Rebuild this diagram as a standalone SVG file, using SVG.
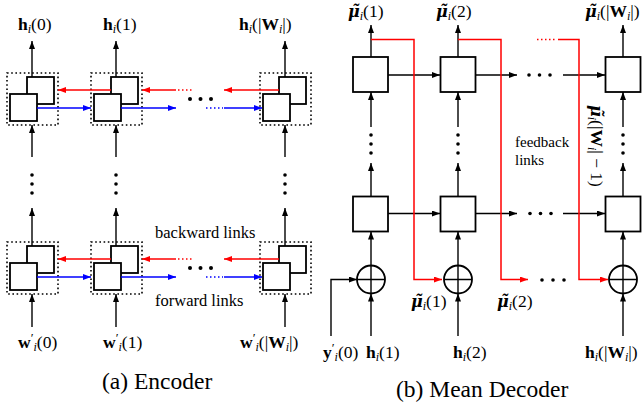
<svg xmlns="http://www.w3.org/2000/svg" width="644" height="406" viewBox="0 0 644 406">
<defs>
<style>
.box{fill:#fff;stroke:#000;stroke-width:1.8}
.dbox{fill:none;stroke:#000;stroke-width:1.6;stroke-dasharray:1.6 2.6}
.ln{fill:none;stroke:#000;stroke-width:1.4}
.rd{fill:none;stroke:#f00;stroke-width:1.5}
.bl{fill:none;stroke:#00f;stroke-width:1.5}
.rdd{fill:none;stroke:#f00;stroke-width:1.5;stroke-dasharray:1.5 2.5}
.bld{fill:none;stroke:#00f;stroke-width:1.5;stroke-dasharray:1.5 2.5}
text{font-family:'Liberation Serif','Times New Roman',serif}
.lbl{font-size:17.5px;fill:#000}
.txt{font-size:16.5px}
.fb{font-size:15px}
.sub{font-size:12px;font-style:italic}
.mu{font-family:'DejaVu Serif',serif;font-weight:bold;font-style:italic;font-size:16px}
.b{font-weight:bold}
.cap{font-size:23.5px;fill:#000}
.dt{fill:#000}
</style>
<marker id="ak" viewBox="0 0 8 6" refX="8" refY="3" markerWidth="8" markerHeight="6" markerUnits="userSpaceOnUse" orient="auto"><path d="M0,0 L8,3 L0,6 z" fill="#000"/></marker>
<marker id="ar" viewBox="0 0 8 6" refX="8" refY="3" markerWidth="8" markerHeight="6" markerUnits="userSpaceOnUse" orient="auto"><path d="M0,0 L8,3 L0,6 z" fill="#f00"/></marker>
<marker id="ab" viewBox="0 0 8 6" refX="8" refY="3" markerWidth="8" markerHeight="6" markerUnits="userSpaceOnUse" orient="auto"><path d="M0,0 L8,3 L0,6 z" fill="#00f"/></marker>
</defs>
<rect width="644" height="406" fill="#fff"/>

<g id="enc-top-0"><rect class="dbox" x="7" y="73" width="51" height="52"/><rect class="box" x="27" y="77" width="27" height="27"/><rect class="box" x="10" y="94" width="27" height="27"/></g>
<g id="enc-top-1"><rect class="dbox" x="91" y="73" width="51" height="52"/><rect class="box" x="111" y="77" width="27" height="27"/><rect class="box" x="94" y="94" width="27" height="27"/></g>
<g id="enc-top-n"><rect class="dbox" x="260" y="73" width="51" height="52"/><rect class="box" x="279" y="77" width="27" height="27"/><rect class="box" x="263" y="94" width="27" height="27"/></g>
<g id="enc-bot-0"><rect class="dbox" x="7" y="242" width="51" height="52"/><rect class="box" x="27" y="246" width="27" height="27"/><rect class="box" x="10" y="263" width="27" height="27"/></g>
<g id="enc-bot-1"><rect class="dbox" x="91" y="242" width="51" height="52"/><rect class="box" x="111" y="246" width="27" height="27"/><rect class="box" x="94" y="263" width="27" height="27"/></g>
<g id="enc-bot-n"><rect class="dbox" x="260" y="242" width="51" height="52"/><rect class="box" x="279" y="246" width="27" height="27"/><rect class="box" x="263" y="263" width="27" height="27"/></g>

<g id="dec-top-1"><rect class="box" x="353" y="57" width="35" height="35"/></g>
<g id="dec-top-2"><rect class="box" x="440.5" y="57" width="35" height="35"/></g>
<g id="dec-top-n"><rect class="box" x="605.5" y="57" width="35" height="35"/></g>
<g id="dec-bot-1"><rect class="box" x="353" y="196.5" width="35" height="35"/></g>
<g id="dec-bot-2"><rect class="box" x="440.5" y="196.5" width="35" height="35"/></g>
<g id="dec-bot-n"><rect class="box" x="605.5" y="196.5" width="35" height="35"/></g>
<g id="sum-1"><circle class="box" cx="371" cy="279.5" r="14"/><path class="ln" d="M357,279.5H385M371,265.5V293.5"/></g>
<g id="sum-2"><circle class="box" cx="458" cy="279.5" r="14"/><path class="ln" d="M444,279.5H472M458,265.5V293.5"/></g>
<g id="sum-n"><circle class="box" cx="623" cy="279.5" r="14"/><path class="ln" d="M609,279.5H637M623,265.5V293.5"/></g>

<g id="connectors">
<path class="ln" marker-end="url(#ak)" d="M32,77V41"/>
<path class="ln" marker-end="url(#ak)" d="M116,77V41"/>
<path class="ln" marker-end="url(#ak)" d="M285,77V41"/>
<path class="ln" marker-end="url(#ak)" d="M32,157V125"/>
<path class="ln" marker-end="url(#ak)" d="M116,157V125"/>
<path class="ln" marker-end="url(#ak)" d="M285,157V125"/>
<path class="ln" marker-end="url(#ak)" d="M32,246V208"/>
<path class="ln" marker-end="url(#ak)" d="M116,246V208"/>
<path class="ln" marker-end="url(#ak)" d="M285,246V208"/>
<path class="ln" marker-end="url(#ak)" d="M32,327V294"/>
<path class="ln" marker-end="url(#ak)" d="M116,327V294"/>
<path class="ln" marker-end="url(#ak)" d="M285,327V294"/>
<path class="rd" marker-end="url(#ar)" d="M111,90H58"/>
<path class="rd" marker-end="url(#ar)" d="M176,90H142"/>
<path class="rdd" d="M178,90H193"/>
<path class="rd" marker-end="url(#ar)" d="M279,90H224"/>
<path class="bl" marker-end="url(#ab)" d="M37,108H91"/>
<path class="bl" marker-end="url(#ab)" d="M121,108H176"/>
<path class="bld" d="M206,108H223"/>
<path class="bl" marker-end="url(#ab)" d="M224,108H262"/>
<path class="rd" marker-end="url(#ar)" d="M111,259H58"/>
<path class="rd" marker-end="url(#ar)" d="M176,259H142"/>
<path class="rdd" d="M178,259H193"/>
<path class="rd" marker-end="url(#ar)" d="M279,259H224"/>
<path class="bl" marker-end="url(#ab)" d="M37,277H91"/>
<path class="bl" marker-end="url(#ab)" d="M121,277H176"/>
<path class="bld" d="M206,277H223"/>
<path class="bl" marker-end="url(#ab)" d="M224,277H262"/>
<path class="ln" marker-end="url(#ak)" d="M371,57V25"/>
<path class="ln" marker-end="url(#ak)" d="M458,57V25"/>
<path class="ln" marker-end="url(#ak)" d="M623,57V25"/>
<path class="ln" marker-end="url(#ak)" d="M371,127V92"/>
<path class="ln" marker-end="url(#ak)" d="M458,127V92"/>
<path class="ln" marker-end="url(#ak)" d="M623,127V92"/>
<path class="ln" marker-end="url(#ak)" d="M371,196.5V163"/>
<path class="ln" marker-end="url(#ak)" d="M458,196.5V163"/>
<path class="ln" marker-end="url(#ak)" d="M623,196.5V163"/>
<path class="ln" marker-end="url(#ak)" d="M371,265.5V231.5"/>
<path class="ln" marker-end="url(#ak)" d="M458,265.5V231.5"/>
<path class="ln" marker-end="url(#ak)" d="M623,265.5V231.5"/>
<path class="ln" marker-end="url(#ak)" d="M371,336V293.5"/>
<path class="ln" marker-end="url(#ak)" d="M458,336V293.5"/>
<path class="ln" marker-end="url(#ak)" d="M623,336V293.5"/>
<path class="ln" marker-end="url(#ak)" d="M331,336V279.5H357"/>
<path class="ln" marker-end="url(#ak)" d="M388,75H440"/>
<path class="ln" marker-end="url(#ak)" d="M475.5,75H517"/>
<path class="ln" marker-end="url(#ak)" d="M563,75H605"/>
<path class="ln" marker-end="url(#ak)" d="M388,213.5H440"/>
<path class="ln" marker-end="url(#ak)" d="M475.5,213.5H517"/>
<path class="ln" marker-end="url(#ak)" d="M563,213.5H605"/>
<path class="rd" marker-end="url(#ar)" d="M371,39.5H414V279.5H442"/>
<path class="rd" marker-end="url(#ar)" d="M458,39.5H501V279.5H528"/>
<path class="rdd" d="M537,39.5H557"/>
<path class="rd" marker-end="url(#ar)" d="M558,39.5H579V279.5H608"/>
</g>

<g class="dt">
<circle cx="190" cy="99" r="2"/><circle cx="200.5" cy="99" r="2"/><circle cx="211" cy="99" r="2"/>
<circle cx="190" cy="268" r="2"/><circle cx="200.5" cy="268" r="2"/><circle cx="211" cy="268" r="2"/>
<circle cx="32" cy="175" r="1.8"/><circle cx="32" cy="184" r="1.8"/><circle cx="32" cy="193" r="1.8"/>
<circle cx="116" cy="175" r="1.8"/><circle cx="116" cy="184" r="1.8"/><circle cx="116" cy="193" r="1.8"/>
<circle cx="285" cy="175" r="1.8"/><circle cx="285" cy="184" r="1.8"/><circle cx="285" cy="193" r="1.8"/>
<circle cx="371" cy="135" r="1.8"/><circle cx="371" cy="144" r="1.8"/><circle cx="371" cy="153" r="1.8"/>
<circle cx="458" cy="135" r="1.8"/><circle cx="458" cy="144" r="1.8"/><circle cx="458" cy="153" r="1.8"/>
<circle cx="623" cy="135" r="1.8"/><circle cx="623" cy="144" r="1.8"/><circle cx="623" cy="153" r="1.8"/>
<circle cx="529" cy="75" r="1.8"/><circle cx="539.5" cy="75" r="1.8"/><circle cx="550" cy="75" r="1.8"/>
<circle cx="530" cy="213.5" r="1.8"/><circle cx="540.5" cy="213.5" r="1.8"/><circle cx="551" cy="213.5" r="1.8"/>
<circle cx="542" cy="280" r="1.8"/><circle cx="553" cy="280" r="1.8"/><circle cx="564" cy="280" r="1.8"/>
</g>

<text class="lbl" x="18" y="30"><tspan class="b">h</tspan><tspan class="sub" dy="3">i</tspan><tspan dy="-3">(0)</tspan></text>
<text class="lbl" x="103" y="30"><tspan class="b">h</tspan><tspan class="sub" dy="3">i</tspan><tspan dy="-3">(1)</tspan></text>
<text class="lbl" x="239" y="30"><tspan class="b">h</tspan><tspan class="sub" dy="3">i</tspan><tspan dy="-3">(|</tspan><tspan class="b">W</tspan><tspan class="sub" dy="3">i</tspan><tspan dy="-3">|)</tspan></text>
<text class="lbl" x="18" y="348"><tspan class="b">w</tspan><tspan font-size="13" dy="-6">′</tspan><tspan class="sub" dy="9">i</tspan><tspan dy="-3">(0)</tspan></text>
<text class="lbl" x="103" y="348"><tspan class="b">w</tspan><tspan font-size="13" dy="-6">′</tspan><tspan class="sub" dy="9">i</tspan><tspan dy="-3">(1)</tspan></text>
<text class="lbl" x="240" y="348"><tspan class="b">w</tspan><tspan font-size="13" dy="-6">′</tspan><tspan class="sub" dy="9">i</tspan><tspan dy="-3">(|</tspan><tspan class="b">W</tspan><tspan class="sub" dy="3">i</tspan><tspan dy="-3">|)</tspan></text>
<text class="lbl txt" x="155" y="238" fill="#f00">backward links</text>
<text class="lbl txt" x="155" y="306" fill="#00f">forward links</text>
<text class="cap" x="102" y="389">(a) Encoder</text>

<text class="lbl" x="348" y="17"><tspan class="mu">μ̃</tspan><tspan class="sub" dy="3">i</tspan><tspan dy="-3">(1)</tspan></text>
<text class="lbl" x="436" y="17"><tspan class="mu">μ̃</tspan><tspan class="sub" dy="3">i</tspan><tspan dy="-3">(2)</tspan></text>
<text class="lbl" x="585" y="17"><tspan class="mu">μ̃</tspan><tspan class="sub" dy="3">i</tspan><tspan dy="-3">(|</tspan><tspan class="b">W</tspan><tspan class="sub" dy="3">i</tspan><tspan dy="-3">|)</tspan></text>
<text class="lbl" x="411" y="307" fill="#f00"><tspan class="mu">μ̃</tspan><tspan class="sub" dy="3">i</tspan><tspan dy="-3">(1)</tspan></text>
<text class="lbl" x="497" y="307" fill="#f00"><tspan class="mu">μ̃</tspan><tspan class="sub" dy="3">i</tspan><tspan dy="-3">(2)</tspan></text>
<text class="lbl" transform="translate(591,105) rotate(90)" fill="#f00"><tspan class="mu">μ̃</tspan><tspan class="sub" dy="3">i</tspan><tspan dy="-3">(|</tspan><tspan class="b">W</tspan><tspan class="sub" dy="3">i</tspan><tspan dy="-3">| − 1)</tspan></text>
<text class="lbl fb" x="515" y="147" fill="#f00">feedback</text>
<text class="lbl fb" x="515" y="164.5" fill="#f00">links</text>
<text class="lbl" x="323" y="358"><tspan class="b">y</tspan><tspan font-size="13" dy="-6">′</tspan><tspan class="sub" dy="9">i</tspan><tspan dy="-3">(0)</tspan></text>
<text class="lbl" x="366" y="358"><tspan class="b">h</tspan><tspan class="sub" dy="3">i</tspan><tspan dy="-3">(1)</tspan></text>
<text class="lbl" x="453" y="358"><tspan class="b">h</tspan><tspan class="sub" dy="3">i</tspan><tspan dy="-3">(2)</tspan></text>
<text class="lbl" x="585" y="358"><tspan class="b">h</tspan><tspan class="sub" dy="3">i</tspan><tspan dy="-3">(|</tspan><tspan class="b">W</tspan><tspan class="sub" dy="3">i</tspan><tspan dy="-3">|)</tspan></text>
<text class="cap" x="396" y="397">(b) Mean Decoder</text>
</svg>
